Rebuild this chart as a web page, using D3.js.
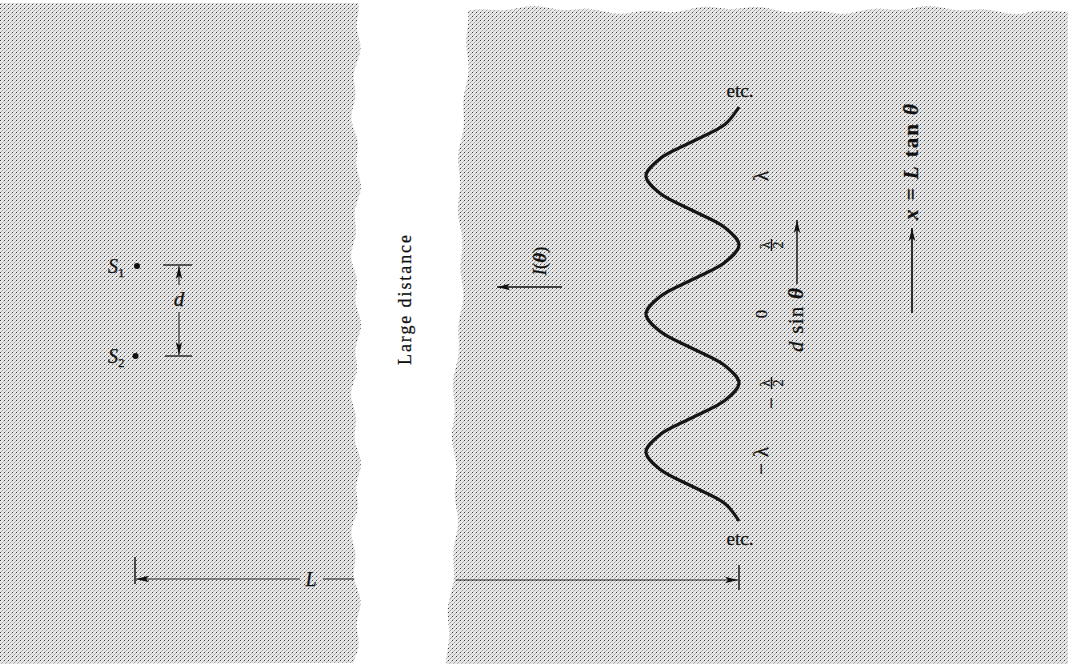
<!DOCTYPE html>
<html><head><meta charset="utf-8">
<script src="https://cdn.jsdelivr.net/npm/d3@7"></script>
<style>
html,body{margin:0;padding:0;background:#fff;}
svg{display:block;}
text{font-family:"Liberation Serif","DejaVu Serif",serif;fill:#111;stroke:#111;stroke-width:0.25px;}
</style></head><body>
<svg id="c" width="1070" height="664"></svg>
<script>
// ---- data (path difference d·sinθ in units of λ, relative intensity) ----
const pathDiff = [-1.5,-1.375,-1.25,-1.125,-1,-0.875,-0.75,-0.625,-0.5,-0.375,-0.25,-0.125,0,0.125,0.25,0.375,0.5,0.625,0.75,0.875,1,1.125,1.25,1.375,1.5];
const intensity = [0,0.15,0.5,0.85,1,0.85,0.5,0.15,0,0.15,0.5,0.85,1,0.85,0.5,0.15,0,0.15,0.5,0.85,1,0.85,0.5,0.15,0];
const tickValues = [-1,-0.5,0,0.5,1];
const tickLabels = ["−λ","−λ/2","0","λ/2","λ"];

const svg = d3.select("#c");
const defs = svg.append("defs");

// halftone-like paper texture
const pat = defs.append("pattern").attr("id","tone").attr("width",4).attr("height",4).attr("patternUnits","userSpaceOnUse");
pat.append("rect").attr("width",4).attr("height",4).attr("fill","#e8e8e8");
pat.append("rect").attr("x",0).attr("y",0).attr("width",1).attr("height",1).attr("fill","#3c3c3c");
pat.append("rect").attr("x",2).attr("y",2).attr("width",1).attr("height",1).attr("fill","#9c9c9c");
pat.append("rect").attr("x",3).attr("y",1).attr("width",1).attr("height",1).attr("fill","#b4b4b4");
pat.append("rect").attr("x",1).attr("y",3).attr("width",1).attr("height",1).attr("fill","#b4b4b4");

// arrow marker
defs.append("marker").attr("id","arr").attr("viewBox","0 -4 13 8").attr("refX",13).attr("refY",0)
  .attr("markerWidth",13).attr("markerHeight",8).attr("markerUnits","userSpaceOnUse").attr("orient","auto")
  .append("path").attr("d","M0,-3.2L13,0L0,3.2L3,0Z").attr("fill","#111");

// torn panels
const H = 664;
const leftEdgeR = y => 356 + 3*Math.sin(y/23) + 2*Math.sin(y/7.3+1);
const rightEdgeL = y => 466 - 16*(y/H) + 3*Math.sin(y/37) + 1.5*Math.sin(y/9);
const topR = x => 10 + 2.5*Math.sin(x/31) + 1.5*Math.sin(x/9+2);
let p1 = [[0,3]];
for (let y=3; y<=H; y+=4) p1.push([leftEdgeR(y), y]);
p1.push([0,H]);
svg.append("path").attr("d", d3.line()(p1)+"Z").attr("fill","url(#tone)");
let p2 = [];
for (let x=rightEdgeL(10); x<=1068; x+=4) p2.push([x, topR(x)]);
p2.push([1068,H]);
for (let y=H; y>=10; y-=4) p2.push([rightEdgeL(y), y]);
svg.append("path").attr("d", d3.line()(p2)+"Z").attr("fill","url(#tone)");

// scales
const y = d3.scaleLinear().domain([-1.5,1.5]).range([521,107]);
const x = d3.scaleLinear().domain([0,1]).range([739,646]);

// intensity curve
svg.append("path")
  .datum(pathDiff.map((d,i)=>[d,intensity[i]]))
  .attr("fill","none").attr("stroke","#151515").attr("stroke-width",3.2)
  .attr("d", d3.line().x(d=>x(d[1])).y(d=>y(d[0])).curve(d3.curveCatmullRom));

// etc. labels
[1.5,-1.5].forEach(v=>{
  svg.append("text").attr("x",740).attr("y", v>0 ? y(v)-10 : y(v)+24)
    .attr("text-anchor","middle").attr("font-size",19).text("etc.");
});

// tick labels (rotated)
tickValues.forEach((v,i)=>{
  const lab = tickLabels[i];
  const neg = lab.startsWith("−");
  const body = neg ? lab.slice(1) : lab;
  const frac = body.includes("/");
  const cx = frac ? 771 : 761;
  const g = svg.append("g").attr("transform",`translate(${cx},${y(v)}) rotate(-90)`);
  if (frac) {
    const [num,den] = body.split("/");
    g.append("text").attr("x",0).attr("y",-6).attr("text-anchor","middle").attr("dominant-baseline","central").attr("font-size",14).text(num);
    g.append("line").attr("x1",-6).attr("x2",6).attr("y1",0.5).attr("y2",0.5).attr("stroke","#111").attr("stroke-width",1.4);
    g.append("text").attr("x",0).attr("y",7.5).attr("text-anchor","middle").attr("dominant-baseline","central").attr("font-size",14).text(den);
  } else {
    g.append("text").attr("x",0).attr("y",0).attr("text-anchor","middle").attr("dominant-baseline","central")
      .attr("font-size", body==="0"?17:21).text(body);
  }
  if (neg) {
    g.append("text").attr("x",frac?-20:-17).attr("y",0).attr("text-anchor","middle").attr("dominant-baseline","central")
      .attr("font-size",21).text("−");
  }
});

// d sin θ label + arrow
const ds = svg.append("g").attr("transform","translate(796,320) rotate(-90)");
const dst = ds.append("text").attr("text-anchor","middle").attr("dominant-baseline","central").attr("font-size",21)
  .attr("textLength",64).attr("lengthAdjust","spacing");
dst.append("tspan").attr("font-style","italic").text("d");
dst.append("tspan").text(" sin ");
dst.append("tspan").attr("font-style","italic").attr("font-weight","bold").text("θ");
svg.append("line").attr("x1",797).attr("y1",284).attr("x2",797).attr("y2",220)
  .attr("stroke","#111").attr("stroke-width",1.4).attr("marker-end","url(#arr)");

// x = L tan θ label + arrow
const xl = svg.append("g").attr("transform","translate(911,162) rotate(-90)");
const xlt = xl.append("text").attr("text-anchor","middle").attr("dominant-baseline","central").attr("font-size",21)
  .attr("font-weight","bold").attr("textLength",116).attr("lengthAdjust","spacing");
xlt.append("tspan").attr("font-style","italic").text("x");
xlt.append("tspan").text(" = ");
xlt.append("tspan").attr("font-style","italic").text("L");
xlt.append("tspan").text(" tan ");
xlt.append("tspan").attr("font-style","italic").text("θ");
svg.append("line").attr("x1",912).attr("y1",313).attr("x2",912).attr("y2",228)
  .attr("stroke","#111").attr("stroke-width",1.7).attr("marker-end","url(#arr)");

// I(θ) label + arrow
const il = svg.append("g").attr("transform","translate(539,261) rotate(-90)");
const ilt = il.append("text").attr("text-anchor","middle").attr("dominant-baseline","central").attr("font-size",19);
ilt.append("tspan").attr("font-style","italic").text("I");
ilt.append("tspan").text("(");
ilt.append("tspan").attr("font-style","italic").attr("font-weight","bold").text("θ");
ilt.append("tspan").text(")");
svg.append("line").attr("x1",562).attr("y1",287).attr("x2",497).attr("y2",287)
  .attr("stroke","#111").attr("stroke-width",1.5).attr("marker-end","url(#arr)");

// Large distance
svg.append("text").attr("transform","translate(405,300) rotate(-90)")
  .attr("text-anchor","middle").attr("dominant-baseline","central").attr("font-size",18)
  .attr("textLength",130).attr("lengthAdjust","spacing").text("Large distance");

// sources
const srcY = [266,356];
const srcLab = ["1","2"];
srcY.forEach((sy,i)=>{
  svg.append("circle").attr("cx",137-i*1.5).attr("cy",sy).attr("r",3).attr("fill","#111");
  const t = svg.append("text").attr("x",108).attr("y",sy+7).attr("font-size",20).attr("font-style","italic");
  t.append("tspan").text("S");
  t.append("tspan").attr("font-size",13).attr("dy",4).attr("font-style","normal").text(srcLab[i]);
});

// d dimension
const dim = (x1,y1,x2,y2,w,m) => svg.append("line").attr("x1",x1).attr("y1",y1).attr("x2",x2).attr("y2",y2)
  .attr("stroke","#222").attr("stroke-width",w||1).attr("marker-end", m ? "url(#arr)" : null);
dim(163,265,192,265,1.4);
dim(165,356,192,356,1.4);
dim(179,285,179,266,1.1,true);
dim(179,312,179,355,1.1,true);
svg.append("text").attr("x",179).attr("y",306).attr("text-anchor","middle").attr("font-size",21).attr("font-style","italic").text("d");

// L dimension
dim(135,557,135,584,1.6);
dim(300,579,136,579,1.1,true);
svg.append("text").attr("x",311).attr("y",586).attr("text-anchor","middle").attr("font-size",20).attr("font-style","italic").text("L");
dim(323,579,leftEdgeR(579),579,1.1);
dim(rightEdgeL(580)+2,580,738,580,1.1,true);
dim(739,565,739,590,1.6);
</script>
</body></html>
